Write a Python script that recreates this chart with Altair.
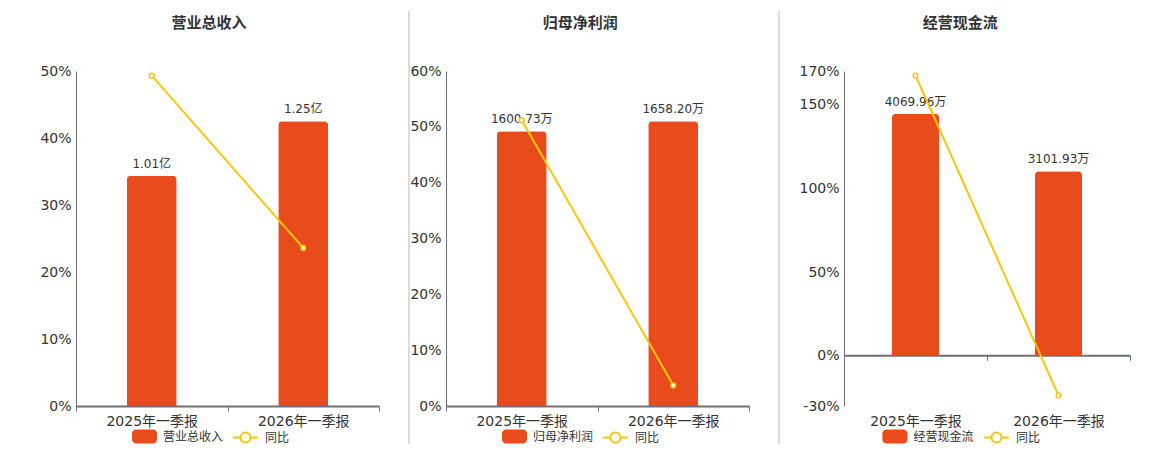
import altair as alt
import pandas as pd

categories = ["2025年一季报", "2026年一季报"]
titles = ["营业总收入", "归母净利润", "经营现金流"]
bar_values = [[1.01, 1.25], [1600.73, 1658.20], [4069.96, 3101.93]]
bar_labels = [["1.01亿", "1.25亿"], ["1600.73万", "1658.20万"], ["4069.96万", "3101.93万"]]
yoy_name = "同比"
yoy_values = [[49.3, 23.6], [51.2, 3.7], [167.3, -23.7]]
yoy_ticks = [[0, 10, 20, 30, 40, 50], [0, 10, 20, 30, 40, 50, 60], [-30, 0, 50, 100, 150, 170]]
yoy_domains = [[0, 50], [0, 60], [-30, 170]]
bar_domains = [[0, 1.47], [0, 1951], [-854, 4790]]

BAR = "#e84c1d"
YEL = "#f4c70f"
AX = "#6e7079"
TXT = "#333333"
GRID = "#e0e6f1"
FONT = '"DejaVu Sans", "Noto Sans CJK SC", sans-serif'

RRECT = ("M-0.68,-0.56 L0.68,-0.56 A0.32,0.32 0 0 1 1,-0.24 L1,0.24 "
         "A0.32,0.32 0 0 1 0.68,0.56 L-0.68,0.56 A0.32,0.32 0 0 1 -1,0.24 "
         "L-1,-0.24 A0.32,0.32 0 0 1 -0.68,-0.56 Z")
LINESYM = ("M-1,0 L-0.4,0 M0.4,0 L1,0 M0.4,0 A0.4,0.4 0 1 1 -0.4,0 "
           "A0.4,0.4 0 1 1 0.4,0")

PLOT_H = 335


def panel(i, width, title_dx, leg_x1, leg_x2, x_offset):
    df = pd.DataFrame({
        "cat": categories,
        "val": bar_values[i],
        "label": bar_labels[i],
        "yoy": yoy_values[i],
        "series": [titles[i]] * 2,
        "yoyname": [yoy_name] * 2,
    })
    x = alt.X(
        "cat:N", sort=categories, title=None,
        scale=alt.Scale(paddingInner=0, paddingOuter=0),
        axis=alt.Axis(labelAngle=0, domainColor=AX, domainWidth=2, tickColor=AX,
                      tickSize=5, tickBand="extent", labelFontSize=14,
                      labelColor=TXT, labelPadding=3 - x_offset, offset=x_offset,
                      grid=False),
    )
    ybar = alt.Y("val:Q", scale=alt.Scale(domain=bar_domains[i], nice=False), axis=None)
    bars = alt.Chart(df).mark_bar(
        width={"band": 0.33}, cornerRadiusTopLeft=4, cornerRadiusTopRight=4
    ).encode(
        x=x, y=ybar,
        fill=alt.Fill("series:N", scale=alt.Scale(domain=[titles[i]], range=[BAR]),
                      legend=alt.Legend(orient="none", legendX=leg_x1, legendY=353,
                                        title=None, symbolType=RRECT, symbolSize=625,
                                        symbolStrokeWidth=0, labelFontSize=12,
                                        labelColor=TXT, labelOffset=6, padding=0)),
    )
    text = alt.Chart(df).mark_text(
        baseline="bottom", dy=-5, fontSize=12, color=TXT
    ).encode(x=x, y=ybar, text="label:N")

    yline = alt.Y(
        "yoy:Q", title=None,
        scale=alt.Scale(domain=yoy_domains[i], nice=False, zero=False),
        axis=alt.Axis(orient="left", values=yoy_ticks[i], labelExpr="datum.value + '%'",
                      domainColor=AX, domainWidth=1, ticks=False, tickSize=0,
                      labelFontSize=14, labelColor=TXT, labelPadding=5,
                      gridColor=GRID, gridWidth=1),
    )
    line = alt.Chart(df).mark_line(strokeWidth=2).encode(
        x=x, y=yline,
        stroke=alt.Stroke("yoyname:N", scale=alt.Scale(domain=[yoy_name], range=[YEL]),
                          legend=alt.Legend(orient="none", legendX=leg_x2, legendY=353,
                                            title=None, symbolType=LINESYM, symbolSize=625,
                                            symbolStrokeWidth=2, symbolFillColor="white",
                                            labelFontSize=12, labelColor=TXT,
                                            labelOffset=6, padding=0)),
    )
    points = alt.Chart(df).mark_point(
        filled=True, fill="white", stroke=YEL, strokeWidth=1.5, size=22, opacity=1
    ).encode(x=x, y=alt.Y("yoy:Q"))

    return alt.layer(alt.layer(bars, text), alt.layer(line, points)).resolve_scale(
        y="independent"
    ).properties(
        width=width, height=PLOT_H,
        title=alt.TitleParams(titles[i], fontSize=15, fontWeight="bold", color=TXT,
                              anchor="middle", frame="group", dx=title_dx,
                              offset=18, baseline="bottom"),
    )


def separator(width):
    return alt.Chart(pd.DataFrame({"a": [0]})).mark_rule(
        color="#b8b8b8", strokeWidth=1
    ).encode(x=alt.value(0), y=alt.value(-60), y2=alt.value(373)).properties(
        width=width, height=PLOT_H
    )


p1 = panel(0, 303, -18.5, 56, 156, 0)
p2 = panel(1, 303, -17.3, 56, 156, 0)
p3 = panel(2, 286, -26.7, 38.4, 139, -50.7)

chart = alt.hconcat(
    p1, separator(6.7), p2, separator(34.3), p3, spacing=30, bounds="flush"
).resolve_scale(
    fill="independent", stroke="independent", x="independent", y="independent"
).resolve_legend(
    fill="independent", stroke="independent"
).properties(
    padding={"left": 31, "top": 2, "right": 5, "bottom": 2}
).configure(font=FONT).configure_view(stroke=None)

chart.save("out.html", embed_options={"renderer": "svg", "actions": False})
